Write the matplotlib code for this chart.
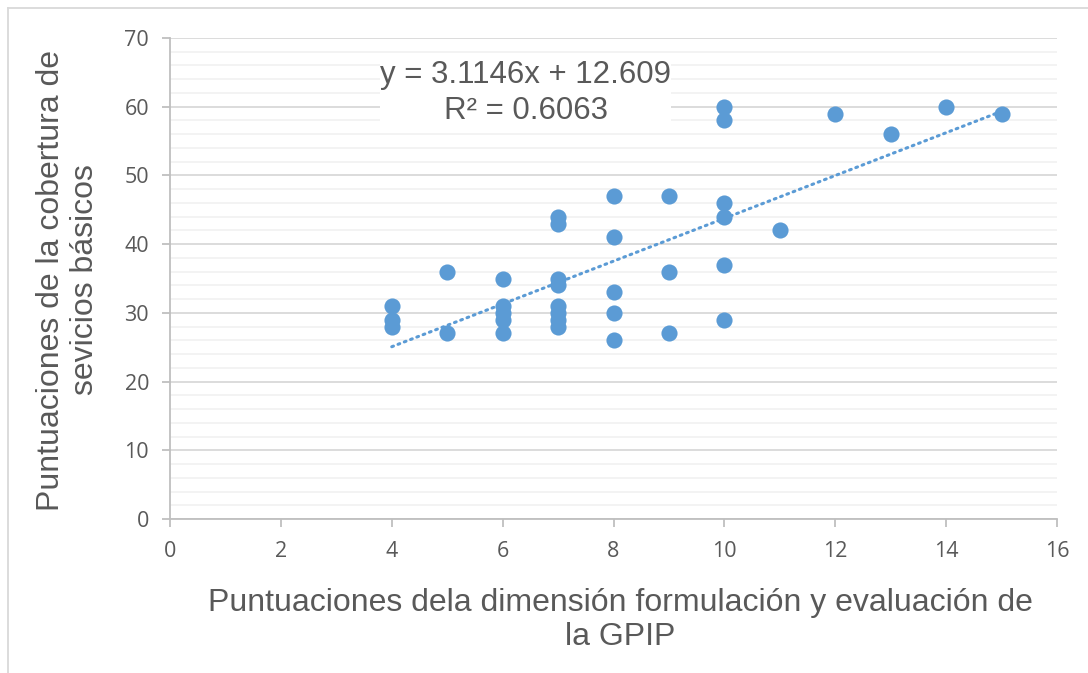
import matplotlib
matplotlib.use("Agg")
import numpy as np
import matplotlib.pyplot as plt
from matplotlib.lines import Line2D

# data
x_vals = [4, 4, 4, 5, 5, 6, 6, 6, 6, 6, 7, 7, 7, 7, 7, 7, 7, 7,
          8, 8, 8, 8, 8, 9, 9, 9, 10, 10, 10, 10, 10, 10, 11, 12, 13, 14, 15]
y_vals = [31, 29, 28, 36, 27, 35, 31, 30, 29, 27, 44, 43, 35, 34, 31, 30, 29, 28,
          47, 41, 33, 30, 26, 47, 36, 27, 60, 58, 46, 44, 37, 29, 42, 59, 56, 60, 59]
x_ticks = [0, 2, 4, 6, 8, 10, 12, 14, 16]
y_ticks = [0, 10, 20, 30, 40, 50, 60, 70]
slope = 3.1146
intercept = 12.609
r2 = 0.6063

x_label = "Puntuaciones dela dimensión formulación y evaluación de\nla GPIP"
y_label = "Puntuaciones de la cobertura de\nsevicios básicos"

blue = "#5b9bd5"
gray_txt = "#595959"

plt.rcParams["font.family"] = ["Open Sans", "DejaVu Sans"]

fig = plt.figure(figsize=(10.88, 6.73), dpi=100)
ax = fig.add_axes([170/1088, 1-519/673, (1057-170)/1088, (519-38)/673])

ax.set_xlim(0, 16)
ax.set_ylim(0, 70)
ax.set_xticks(x_ticks)
ax.set_xticklabels([str(t) for t in x_ticks], fontsize=15.5, color=gray_txt)
ax.set_yticks(y_ticks)
ax.set_yticklabels([str(t) for t in y_ticks], fontsize=15.5, color=gray_txt)
ax.set_yticks(np.arange(0, 71, 2), minor=True)
ax.grid(True, which="major", axis="y", color="#d9d9d9", lw=1.3)
ax.grid(True, which="minor", axis="y", color="#f2f2f2", lw=1.3)
ax.set_axisbelow(True)
ax.tick_params(axis="y", which="minor", length=0)

for s in ["top", "right"]:
    ax.spines[s].set_visible(False)
for s in ["left", "bottom"]:
    ax.spines[s].set_color("#bfbfbf")
    ax.spines[s].set_linewidth(1.3)
ax.tick_params(axis="both", which="major", color="#bfbfbf", width=1.3, length=6)
ax.tick_params(axis="x", pad=10)
ax.tick_params(axis="y", pad=9)

ax.scatter(x_vals, y_vals, s=135, color=blue, zorder=3, linewidths=0)

tx = np.array([min(x_vals), max(x_vals)])
ax.plot(tx, slope * tx + intercept, color=blue, lw=2.2, ls=(0, (0.6, 1.6)),
        dash_capstyle="round", zorder=2)

ax.text(6.42, 62, f"y = {slope}x + {intercept}\nR² = {r2}", ha="center", va="center",
        fontsize=22.5, color=gray_txt, family="Liberation Sans", linespacing=1.25,
        bbox=dict(facecolor="white", edgecolor="none", pad=0), zorder=4)

fig.text(620/1088, 1-620/673, x_label, ha="center", va="center", fontsize=23,
         color=gray_txt, family="Liberation Sans", linespacing=1.15)
fig.text(68/1088, 1-280/673, y_label, ha="center", va="center", rotation=90,
         fontsize=23, color=gray_txt, family="Liberation Sans", linespacing=1.15)

# chart border
fig.add_artist(Line2D([8/1088, 8/1088], [0, 1-8/673], color="#d9d9d9", lw=1.3,
                      transform=fig.transFigure))
fig.add_artist(Line2D([8/1088, 1], [1-8/673, 1-8/673], color="#d9d9d9", lw=1.3,
                      transform=fig.transFigure))

fig.savefig("out.png", dpi=100)
